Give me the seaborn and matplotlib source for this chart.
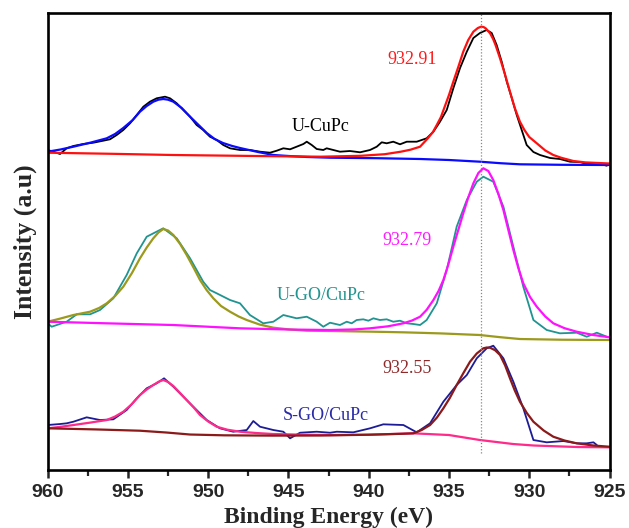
"""
Cu 2p XPS spectra of U-CuPc, U-GO/CuPc and S-GO/CuPc (stacked, offset).
Data points read off the reference picture.
"""
import matplotlib
matplotlib.use("Agg")
import matplotlib.pyplot as plt
from matplotlib.ticker import MultipleLocator
import seaborn as sns

# ---------------------------
# U-CuPc (top)
# ---------------------------
u_cupc_e = [960.0, 959.65, 959.23, 958.82, 958.40, 957.78, 957.16, 956.54, 956.12, 955.70,
            955.29, 954.87, 954.45, 954.04, 953.63, 953.21, 952.69, 952.38, 951.96, 951.55,
            951.13, 950.72, 950.31, 949.89, 949.47, 949.06, 948.64, 948.02, 947.40, 946.77,
            946.15, 945.73, 945.32, 944.90, 944.49, 944.07, 943.86, 943.55, 943.24, 942.83,
            942.62, 941.79, 941.17, 940.54, 939.92, 939.50, 939.19, 938.88, 938.47, 938.05,
            937.63, 937.01, 936.39, 935.97, 935.56, 935.14, 934.73, 934.31, 933.89, 933.48,
            933.07, 932.65, 932.34, 932.03, 931.71, 931.40, 931.09, 930.78, 930.47, 930.16,
            929.74, 929.33, 928.70, 928.09, 927.46, 926.84, 926.42, 925.79, 925.17]
u_cupc_i = [320.0, 318.3, 316.0, 321.7, 324.0, 326.0, 327.3, 329.3, 330.7, 335.0,
            340.0, 346.7, 355.0, 363.3, 368.3, 371.7, 373.3, 371.7, 366.7, 360.0,
            353.3, 345.0, 340.0, 333.3, 330.0, 325.0, 321.7, 320.0, 320.0, 318.3,
            317.3, 319.3, 321.7, 320.7, 323.3, 326.0, 328.3, 325.0, 321.0, 320.0,
            321.7, 318.3, 319.0, 317.7, 320.0, 323.3, 327.7, 326.7, 328.3, 325.7,
            328.3, 328.3, 331.7, 338.3, 348.3, 360.0, 381.7, 402.0, 418.3, 432.0,
            437.0, 440.0, 437.0, 425.0, 408.0, 388.3, 372.0, 355.0, 340.0, 325.0,
            318.0, 315.0, 312.0, 311.0, 308.3, 308.0, 306.0, 307.0, 304.3]
# Cu 2p1/2 fit (blue)
u_cupc_fit1_e = [960.0, 959.2, 958.4, 957.3, 956.32, 955.8, 955.29, 954.7, 954.25, 953.83,
                 953.42, 953.1, 952.8, 952.5, 952.17, 951.65, 951.13, 950.6, 950.09, 949.6,
                 949.08, 948.5, 948.02, 946.9, 945.94, 944.8, 943.84, 942.41, 939.5, 936.8,
                 935.0, 933.07, 931.8, 930.58, 928.0, 925.0]
u_cupc_fit1_i = [318.3, 320.5, 323.3, 327.5, 331.7, 336.0, 342.0, 350.0, 358.3, 364.0,
                 368.3, 370.3, 371.0, 370.3, 368.3, 362.0, 353.3, 345.0, 337.0, 331.0,
                 327.0, 324.0, 322.0, 318.0, 315.0, 313.8, 313.0, 312.3, 311.8, 311.0,
                 310.0, 308.3, 306.8, 305.7, 305.2, 305.0]
# Cu 2p3/2 fit (red)
u_cupc_fit2_e = [960.0, 956.0, 952.2, 947.0, 943.0, 940.5, 939.0, 938.0, 937.4, 936.8,
                 936.3, 936.0, 935.76, 935.5, 935.25, 935.0, 934.73, 934.4, 934.11, 933.8,
                 933.48, 933.2, 933.0, 932.85, 932.7, 932.44, 932.25, 932.1, 931.82, 931.5,
                 931.2, 930.9, 930.58, 930.3, 930.0, 929.53, 929.0, 928.5, 928.0, 927.25,
                 926.5, 925.0]
u_cupc_fit2_i = [317.3, 316.2, 315.0, 314.0, 313.3, 314.2, 315.8, 318.3, 320.3, 323.3,
                 332.0, 338.0, 345.0, 353.0, 364.0, 375.0, 388.3, 404.0, 418.3, 430.0,
                 438.3, 442.0, 443.3, 443.0, 441.5, 436.7, 431.0, 425.0, 411.7, 395.0,
                 378.3, 362.0, 348.3, 340.0, 333.0, 326.7, 319.5, 315.0, 312.2, 309.0,
                 307.6, 306.5]

# ---------------------------
# U-GO/CuPc (middle)
# ---------------------------
u_go_e = [960.0, 959.75, 958.82, 958.19, 957.36, 956.74, 955.91, 955.08, 954.45, 953.83,
          952.80, 951.96, 951.13, 950.31, 949.89, 949.47, 948.64, 948.02, 947.40, 946.57,
          945.94, 945.32, 944.49, 943.86, 943.24, 942.83, 942.41, 941.79, 941.37, 941.06,
          940.75, 940.34, 940.02, 939.71, 939.30, 938.88, 938.47, 938.05, 937.63, 937.22,
          936.80, 936.39, 935.76, 935.14, 934.52, 933.89, 933.27, 932.86, 932.24, 931.61,
          930.99, 930.37, 929.74, 928.91, 928.09, 927.04, 926.42, 925.79, 925.17]
u_go_i = [146.7, 143.3, 148.3, 155.7, 155.7, 160.0, 171.7, 195.0, 216.7, 233.3,
          241.7, 231.7, 211.7, 188.3, 180.0, 176.7, 170.0, 166.7, 155.0, 146.7,
          148.3, 155.0, 151.7, 153.3, 148.3, 143.3, 147.3, 145.0, 148.3, 146.7,
          150.0, 150.7, 149.3, 151.7, 150.0, 150.7, 148.3, 149.3, 146.7, 146.0,
          145.0, 150.0, 166.7, 200.0, 243.3, 270.0, 288.3, 293.3, 288.3, 263.3,
          223.3, 183.3, 150.0, 140.0, 136.7, 137.3, 133.3, 137.3, 133.3]
# Cu 2p1/2 fit (olive)
u_go_fit1_e = [960.0, 959.2, 958.4, 957.36, 956.8, 956.32, 955.8, 955.29, 954.75, 954.25,
               953.83, 953.42, 953.1, 952.8, 952.5, 952.17, 951.75, 951.34, 950.9, 950.51,
               950.1, 949.68, 949.2, 948.64, 948.1, 947.6, 946.8, 945.94, 944.9, 943.86,
               942.41, 940.0, 937.84, 935.5, 933.07, 931.8, 930.58, 928.0, 925.0]
u_go_fit1_i = [148.3, 151.5, 155.0, 158.3, 162.0, 166.7, 174.0, 183.3, 197.0, 211.7,
               222.5, 231.7, 237.5, 241.0, 239.5, 235.0, 226.0, 215.0, 202.0, 190.0,
               180.0, 171.7, 164.0, 158.3, 153.5, 150.0, 145.5, 142.3, 140.5, 139.3,
               139.0, 138.4, 137.7, 136.6, 135.0, 132.8, 131.0, 130.3, 130.0]
# Cu 2p3/2 fit (magenta)
u_go_fit2_e = [960.0, 956.32, 952.17, 948.02, 945.0, 942.41, 940.9, 939.92, 938.8, 937.84,
               937.3, 936.8, 936.4, 935.97, 935.65, 935.35, 935.05, 934.73, 934.42, 934.11,
               933.8, 933.48, 933.17, 932.86, 932.55, 932.24, 931.92, 931.61, 931.3, 930.99,
               930.68, 930.37, 929.95, 929.53, 929.0, 928.5, 927.8, 927.04, 926.0, 925.0]
u_go_fit2_i = [148.3, 146.7, 145.0, 141.7, 140.5, 140.0, 140.6, 141.7, 143.7, 146.7,
               149.5, 153.3, 160.0, 170.0, 179.0, 190.0, 205.0, 223.3, 240.0, 256.7,
               272.5, 286.7, 297.0, 301.7, 299.0, 290.0, 276.0, 260.0, 240.0, 220.0,
               202.0, 186.7, 173.0, 163.3, 153.5, 146.7, 141.8, 138.3, 135.0, 132.7]

# ---------------------------
# S-GO/CuPc (bottom)
# ---------------------------
s_go_e = [960.0, 959.23, 958.82, 958.40, 957.57, 956.74, 955.91, 955.08, 954.45, 953.83,
          953.21, 952.75, 952.17, 951.55, 950.93, 950.09, 949.27, 948.44, 947.60, 947.19,
          946.77, 945.94, 945.32, 944.90, 944.28, 943.24, 942.41, 941.99, 940.96, 939.92,
          939.09, 937.84, 937.01, 936.18, 935.35, 934.52, 933.89, 933.27, 932.65, 932.24,
          931.61, 930.99, 930.37, 929.74, 928.91, 927.87, 927.04, 926.42, 926.00, 925.79]
s_go_i = [45.0, 46.0, 46.7, 48.3, 52.7, 50.0, 50.7, 60.0, 71.7, 81.7,
          86.7, 91.7, 83.3, 73.3, 63.3, 50.0, 41.7, 38.3, 40.0, 49.0,
          43.3, 40.0, 38.3, 31.7, 37.3, 38.3, 37.3, 38.3, 37.7, 41.7,
          45.7, 45.0, 37.7, 46.7, 68.3, 85.0, 95.0, 111.7, 121.7, 124.3,
          111.7, 88.3, 61.7, 30.0, 27.7, 29.0, 26.7, 26.7, 27.7, 25.0]
# Cu 2p1/2 fit (pink)
s_go_fit1_e = [960.0, 959.2, 958.4, 957.4, 956.32, 955.8, 955.29, 954.75, 954.25, 953.83,
               953.42, 953.1, 952.8, 952.5, 952.17, 951.75, 951.34, 950.9, 950.51, 950.0,
               949.47, 948.8, 948.02, 947.0, 945.94, 944.0, 942.41, 940.0, 937.22, 935.0,
               933.07, 931.0, 929.7, 927.0, 925.0]
s_go_fit1_i = [41.7, 43.2, 45.0, 47.3, 50.0, 53.5, 58.3, 66.0, 75.0, 80.5,
               85.0, 88.2, 90.0, 88.0, 84.0, 77.0, 70.0, 62.5, 55.0, 48.5,
               43.3, 40.3, 38.3, 37.0, 36.0, 35.3, 35.0, 35.3, 36.7, 35.0,
               30.0, 26.0, 24.5, 23.0, 22.7]
# Cu 2p3/2 fit (dark red)
s_go_fit2_e = [960.0, 957.0, 954.25, 952.6, 951.13, 949.0, 946.0, 943.0, 940.0, 938.0,
               937.22, 936.7, 936.18, 935.75, 935.35, 934.95, 934.52, 934.1, 933.69, 933.27,
               932.86, 932.65, 932.44, 932.13, 931.82, 931.5, 931.2, 930.9, 930.58, 930.15,
               929.74, 929.1, 928.5, 927.8, 927.04, 926.0, 925.0]
s_go_fit2_i = [41.7, 40.6, 39.3, 37.5, 35.5, 34.7, 34.4, 34.5, 35.3, 36.2,
               36.7, 40.0, 45.0, 52.5, 61.7, 72.0, 85.0, 97.0, 108.3, 116.5,
               121.7, 122.5, 122.3, 119.8, 115.0, 104.5, 91.7, 79.5, 68.3, 57.0,
               48.3, 39.5, 33.3, 29.5, 26.7, 24.5, 23.3]

# labels: (text, energy, intensity, colour)
labels = [
    ("932.91", 937.3, 410, "#ff1a1a"),
    ("U-CuPc", 943.0, 343, "black"),
    ("932.79", 937.6, 230, "#ff1aff"),
    ("U-GO/CuPc", 942.95, 175, "#1f9490"),
    ("932.55", 937.6, 102, "#8e2a2a"),
    ("S-GO/CuPc", 942.7, 55, "#2b2ba6"),
]
ref_energy = 932.98  # dotted reference line


def draw(ax, e, i, color, lw):
    """한 곡선을 seaborn lineplot 으로 그린다 (정렬/집계 없이)."""
    sns.lineplot(x=e, y=i, ax=ax, color=color, linewidth=lw,
                 sort=False, estimator=None, legend=False)


def main():
    sns.set_theme(style="white")
    plt.rcParams["font.family"] = ["Liberation Serif", "DejaVu Serif"]
    plt.rcParams["lines.solid_joinstyle"] = "round"

    fig = plt.figure(figsize=(6.29, 5.28), dpi=100)
    ax = fig.add_axes([0.0758, 0.1098, 0.8932, 0.8656])

    # data (thin) then fitted components (thicker)
    draw(ax, u_cupc_e, u_cupc_i, "black", 1.3)
    draw(ax, u_cupc_fit1_e, u_cupc_fit1_i, "#0a0aff", 1.6)
    draw(ax, u_cupc_fit2_e, u_cupc_fit2_i, "#ff1010", 1.6)

    draw(ax, u_go_e, u_go_i, "#1f9490", 1.3)
    draw(ax, u_go_fit1_e, u_go_fit1_i, "#9c9a1c", 1.6)
    draw(ax, u_go_fit2_e, u_go_fit2_i, "#ff10ff", 1.6)

    draw(ax, s_go_e, s_go_i, "#1c1c96", 1.3)
    draw(ax, s_go_fit1_e, s_go_fit1_i, "#ff2a8a", 1.6)
    draw(ax, s_go_fit2_e, s_go_fit2_i, "#8b1a1a", 1.6)

    ax.axvline(ref_energy, ymin=0.037, ymax=1.0, color="#888888",
               linestyle=(0, (1, 1.5)), linewidth=0.9)

    for txt, e, i, c in labels:
        ax.text(e, i, txt, color=c, fontsize=13, ha="center", va="center")

    ax.set_xlim(960, 925)
    ax.set_ylim(0, 457)
    ax.xaxis.set_major_locator(MultipleLocator(5))
    ax.xaxis.set_minor_locator(MultipleLocator(2.5))
    ax.tick_params(axis="x", which="major", direction="out", length=6, width=1.8,
                   bottom=True, pad=4)
    ax.tick_params(axis="x", which="minor", direction="out", length=4, width=1.6,
                   bottom=True)
    ax.set_yticks([])
    for lab in ax.get_xticklabels():
        lab.set_fontfamily("Liberation Sans")
        lab.set_fontweight("bold")
        lab.set_fontsize(14)

    for sp in ax.spines.values():
        sp.set_linewidth(1.9)
        sp.set_color("black")

    ax.set_xlabel("Binding Energy (eV)", fontsize=17, fontweight="bold", labelpad=4)
    ax.set_ylabel("Intensity (a.u)", fontsize=18.5, fontweight="bold", labelpad=8)

    fig.savefig("out.png", dpi=100)
    plt.close(fig)


if __name__ == "__main__":
    main()
